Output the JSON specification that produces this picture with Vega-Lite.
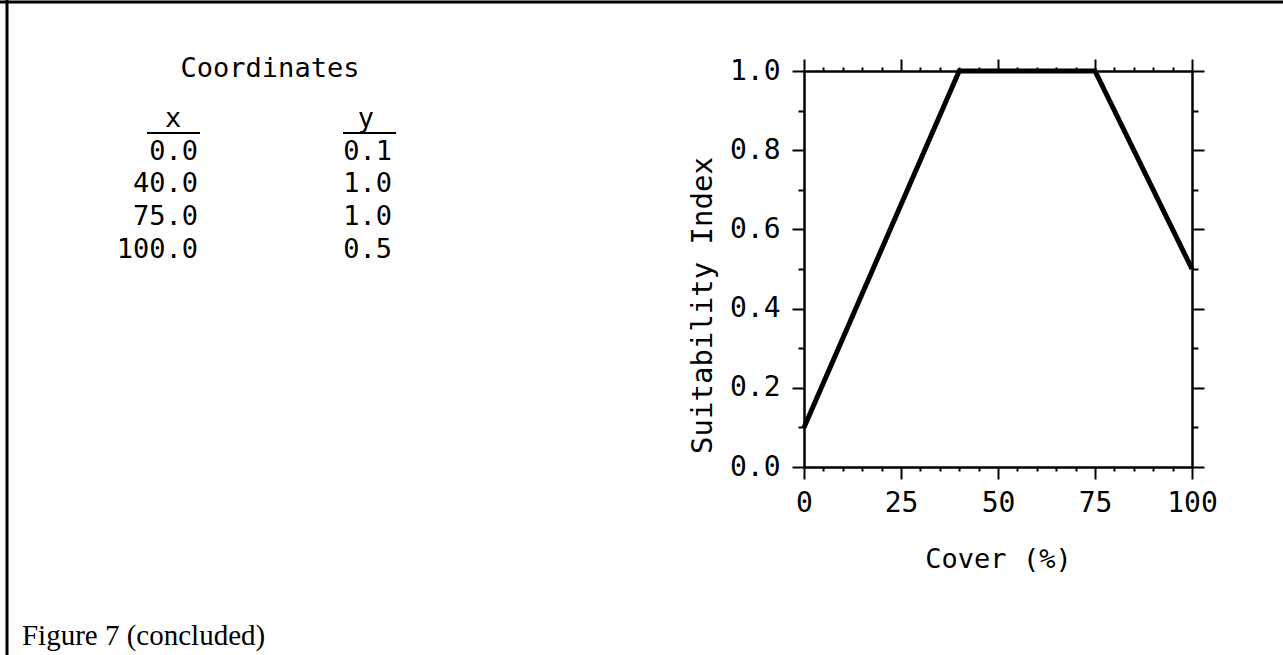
{
  "$schema": "https://vega.github.io/schema/vega-lite/v6.json",
  "width": 388,
  "height": 396,
  "autosize": {"type": "none"},
  "padding": {"left": 804, "top": 71, "right": 91, "bottom": 188},
  "background": "white",
  "config": {
    "view": {"stroke": null},
    "axis": {
      "domainColor": "black",
      "domainWidth": 2.5,
      "tickColor": "black",
      "tickWidth": 2,
      "grid": false,
      "labelFlush": false,
      "labelOverlap": false,
      "labelFont": "DejaVu Sans Mono",
      "labelFontSize": 28,
      "labelColor": "black",
      "titleFont": "DejaVu Sans Mono",
      "titleFontSize": 28,
      "titleFontWeight": "normal",
      "titleColor": "black"
    }
  },
  "datasets": {
    "curve": [
      {"cover": 0, "si": 0.1},
      {"cover": 40, "si": 1.0},
      {"cover": 75, "si": 1.0},
      {"cover": 100, "si": 0.5}
    ],
    "cells": [
      {"cover": -156.19, "si": 0.7753, "label": "0.0"},
      {"cover": -156.19, "si": 0.6932, "label": "40.0"},
      {"cover": -156.19, "si": 0.6111, "label": "75.0"},
      {"cover": -156.19, "si": 0.529, "label": "100.0"},
      {"cover": -106.19, "si": 0.7753, "label": "0.1"},
      {"cover": -106.19, "si": 0.6932, "label": "1.0"},
      {"cover": -106.19, "si": 0.6111, "label": "1.0"},
      {"cover": -106.19, "si": 0.529, "label": "0.5"}
    ],
    "heads": [
      {"cover": -137.63, "si": 0.9848, "label": "Coordinates"},
      {"cover": -162.6, "si": 0.8586, "label": "x"},
      {"cover": -112.9, "si": 0.8586, "label": "y"}
    ],
    "underlines": [
      {"cover": -169.33, "cover2": -155.67, "si": 0.8434},
      {"cover": -118.81, "cover2": -105.15, "si": 0.8434}
    ],
    "frame": [
      {"cover": -205.41, "cover2": -205.41, "si": 1.1793, "si2": -0.4747},
      {"cover": -207.22, "cover2": 123.45, "si": 1.1742, "si2": 1.1742}
    ],
    "caption": [
      {"cover": -201.55, "si": -0.4495, "label": "Figure 7 (concluded)"}
    ]
  },
  "resolve": {"axis": {"x": "independent", "y": "independent"}},
  "layer": [
    {
      "data": {"name": "curve"},
      "mark": {"type": "line", "color": "black", "strokeWidth": 5, "strokeJoin": "miter", "clip": false},
      "encoding": {
        "x": {
          "field": "cover", "type": "quantitative",
          "scale": {"domain": [0, 100], "nice": false, "zero": false},
          "axis": {"orient": "bottom", "values": [0, 25, 50, 75, 100], "format": "d", "tickSize": 12, "labelPadding": 10,
                   "title": "Cover (%)", "titleBaseline": "alphabetic", "titleY": 100, "titleFontSize": 27}
        },
        "y": {
          "field": "si", "type": "quantitative",
          "scale": {"domain": [0, 1], "nice": false, "zero": false},
          "axis": {"orient": "left", "values": [0, 0.2, 0.4, 0.6, 0.8, 1.0], "format": ".1f", "tickSize": 12, "labelPadding": 12,
                   "title": "Suitability Index", "titleBaseline": "alphabetic", "titleAngle": -90, "titleX": -93, "titleY": 234, "titleFontSize": 29}
        }
      }
    },
    {
      "data": {"name": "curve"},
      "mark": {"type": "point", "opacity": 0},
      "encoding": {
        "x": {"field": "cover", "type": "quantitative",
              "axis": {"orient": "top", "values": [0, 25, 50, 75, 100], "labels": false, "tickSize": 12, "title": null}},
        "y": {"field": "si", "type": "quantitative",
              "axis": {"orient": "right", "values": [0, 0.2, 0.4, 0.6, 0.8, 1.0], "labels": false, "tickSize": 12, "title": null}}
      }
    },
    {
      "data": {"name": "curve"},
      "mark": {"type": "point", "opacity": 0},
      "encoding": {
        "x": {"field": "cover", "type": "quantitative",
              "axis": {"orient": "bottom", "values": [5, 10, 15, 20, 30, 35, 40, 45, 55, 60, 65, 70, 80, 85, 90, 95], "labels": false, "domain": false, "tickSize": 4, "title": null}},
        "y": {"field": "si", "type": "quantitative",
              "axis": {"orient": "left", "values": [0.1, 0.3, 0.5, 0.7, 0.9], "labels": false, "domain": false, "tickSize": 6, "title": null}}
      }
    },
    {
      "data": {"name": "curve"},
      "mark": {"type": "point", "opacity": 0},
      "encoding": {
        "x": {"field": "cover", "type": "quantitative",
              "axis": {"orient": "top", "values": [5, 10, 15, 20, 30, 35, 40, 45, 55, 60, 65, 70, 80, 85, 90, 95], "labels": false, "domain": false, "tickSize": 4, "title": null}},
        "y": {"field": "si", "type": "quantitative",
              "axis": {"orient": "right", "values": [0.1, 0.3, 0.5, 0.7, 0.9], "labels": false, "domain": false, "tickSize": 6, "title": null}}
      }
    },
    {
      "data": {"name": "cells"},
      "mark": {"type": "text", "align": "right", "baseline": "alphabetic", "font": "DejaVu Sans Mono", "fontSize": 27, "color": "black"},
      "encoding": {
        "x": {"field": "cover", "type": "quantitative", "axis": null},
        "y": {"field": "si", "type": "quantitative", "axis": null},
        "text": {"field": "label"}
      }
    },
    {
      "data": {"name": "heads"},
      "mark": {"type": "text", "align": "center", "baseline": "alphabetic", "font": "DejaVu Sans Mono", "fontSize": 27, "color": "black"},
      "encoding": {
        "x": {"field": "cover", "type": "quantitative", "axis": null},
        "y": {"field": "si", "type": "quantitative", "axis": null},
        "text": {"field": "label"}
      }
    },
    {
      "data": {"name": "underlines"},
      "mark": {"type": "rule", "color": "black", "strokeWidth": 2},
      "encoding": {
        "x": {"field": "cover", "type": "quantitative", "axis": null},
        "x2": {"field": "cover2"},
        "y": {"field": "si", "type": "quantitative", "axis": null}
      }
    },
    {
      "data": {"name": "frame"},
      "mark": {"type": "rule", "color": "black", "strokeWidth": 3},
      "encoding": {
        "x": {"field": "cover", "type": "quantitative", "axis": null},
        "x2": {"field": "cover2"},
        "y": {"field": "si", "type": "quantitative", "axis": null},
        "y2": {"field": "si2"}
      }
    },
    {
      "data": {"name": "caption"},
      "mark": {"type": "text", "align": "left", "baseline": "alphabetic", "font": "Liberation Serif", "fontSize": 29, "color": "black"},
      "encoding": {
        "x": {"field": "cover", "type": "quantitative", "axis": null},
        "y": {"field": "si", "type": "quantitative", "axis": null},
        "text": {"field": "label"}
      }
    }
  ]
}
